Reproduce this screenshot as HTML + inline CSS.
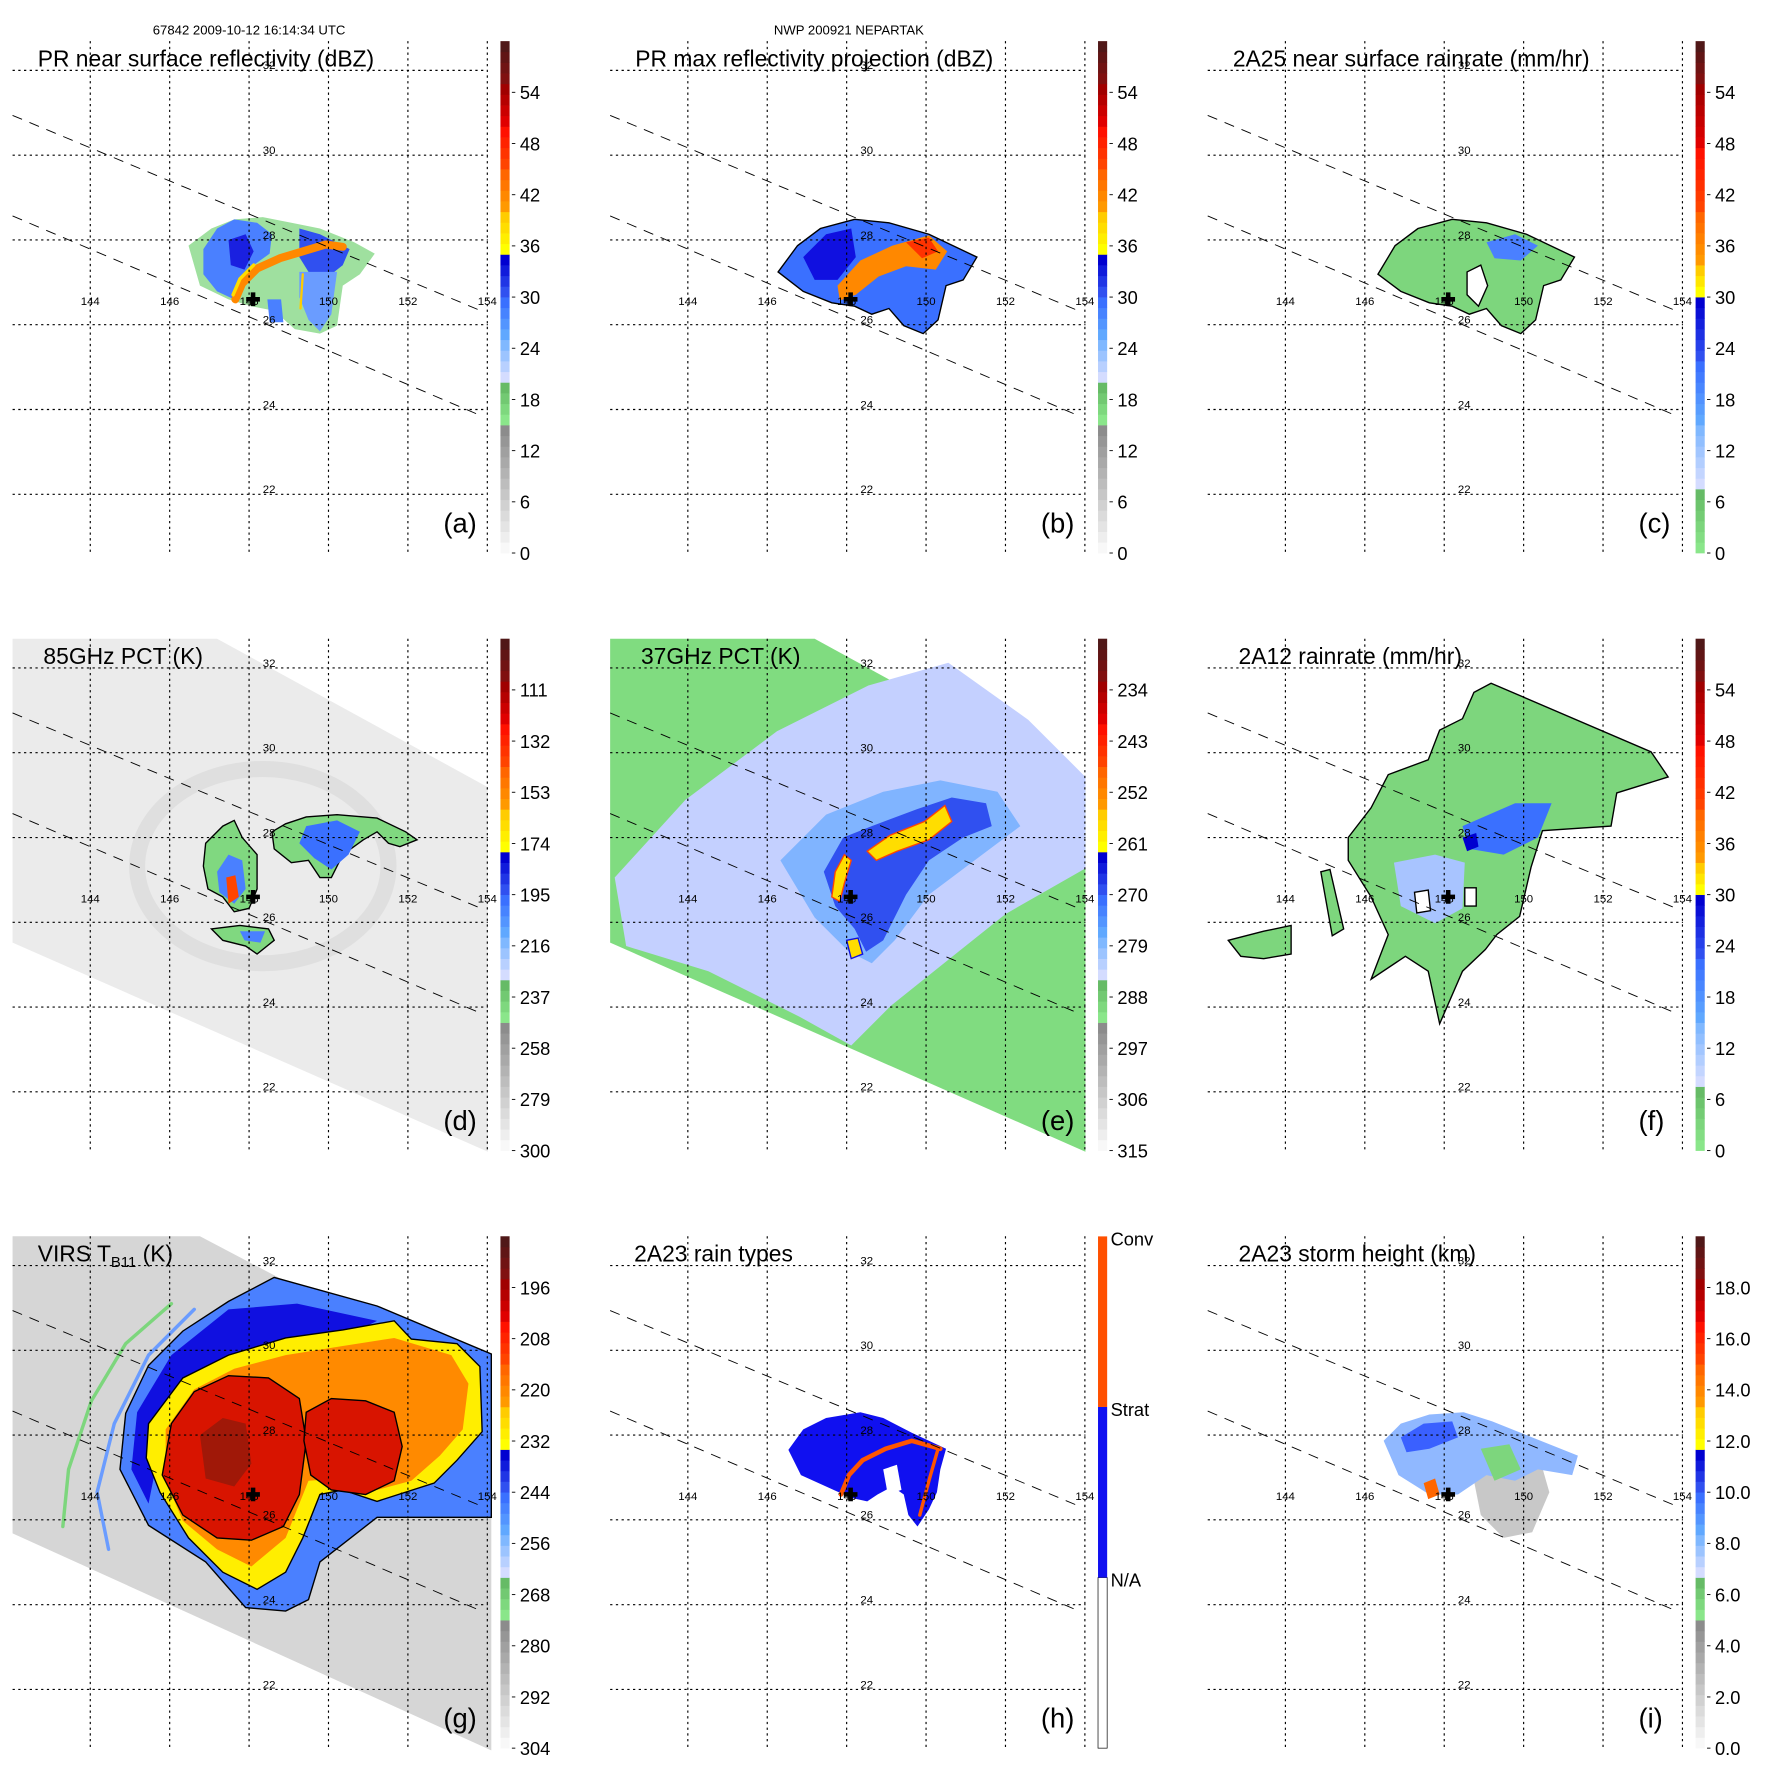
<!DOCTYPE html>
<html><head><meta charset="utf-8"><title>TRMM NEPARTAK</title>
<style>html,body{margin:0;padding:0;background:#fff}svg{display:block;font-family:"Liberation Sans",Arial,sans-serif}</style>
</head><body>
<svg id="fig" xmlns="http://www.w3.org/2000/svg" width="1771" height="1771" viewBox="0 0 1550 1550">
<rect width="1550" height="1550" fill="#fff"/>
<text x="218" y="30" font-size="11.5" text-anchor="middle">67842 2009-10-12 16:14:34 UTC</text>
<text x="743" y="30" font-size="11.5" text-anchor="middle">NWP 200921 NEPARTAK</text>
</svg>
<script>
// ---------- data ----------
const lons = [144,146,148,150,152,154];
const lats = [32,30,28,26,24,22];
const ticksA = ['0','6','12','18','24','30','36','42','48','54'];
const ticksC = ['0','6','12','18','24','30','36','42','48','54'];
const ticksD = ['300','279','258','237','216','195','174','153','132','111'];
const ticksE = ['315','306','297','288','279','270','261','252','243','234'];
const ticksG = ['304','292','280','268','256','244','232','220','208','196'];
const ticksI = ['0.0','2.0','4.0','6.0','8.0','10.0','12.0','14.0','16.0','18.0'];
const rainTypes = ['N/A','Strat','Conv'];
const stormCenter = [148.1, 26.6];
const tmiSwath = [[11,36],[190,36],[427,166],[427,485],[11,302]];
const virsSwath = [[11,36],[175,36],[430,170],[430,486],[11,296]];
const features = [
 ['a','#9fe09f','none',[[165,215],[185,200],[205,192],[230,190],[255,195],[280,200],[310,212],[328,222],[315,240],[300,250],[295,285],[280,292],[258,288],[240,272],[220,268],[200,262],[175,250]]],
 ['a','#4a80ff','none',[[178,218],[190,200],[205,192],[225,195],[238,205],[236,222],[222,232],[212,245],[205,262],[190,255],[178,240]]],
 ['a','#1a20e0','none',[[200,210],[215,205],[222,220],[214,236],[202,232]]],
 ['a','#3050f0','none',[[262,200],[280,205],[306,218],[300,232],[290,240],[270,238],[262,225]]],
 ['a','#6a9cff','none',[[262,238],[295,238],[290,275],[280,290],[270,280],[262,260]]],
 ['a','#4a80ff','none',[[234,262],[246,262],[248,282],[236,282]]],
 ['b','#3a70ff','#000',[[158,238],[175,215],[195,200],[225,192],[255,195],[290,205],[332,225],[320,245],[305,250],[298,280],[285,292],[268,285],[255,270],[240,275],[225,268],[205,265],[180,255]]],
 ['b','#1010e0','none',[[180,225],[200,205],[222,200],[226,225],[210,245],[190,245]]],
 ['b','#ff8800','none',[[230,228],[258,215],[290,206],[306,220],[296,236],[270,233],[246,242],[226,258],[212,263],[210,250]]],
 ['b','#ff3300','none',[[270,212],[290,208],[298,220],[284,226]]],
 ['c','#7dd67d','#000',[[160,240],[175,215],[195,200],[225,192],[255,195],[290,205],[332,225],[320,245],[305,250],[298,280],[285,292],[268,285],[255,270],[240,275],[225,268],[205,265],[180,255]]],
 ['c','#fff','#000',[[238,238],[250,232],[256,250],[248,268],[238,258]]],
 ['c','#4a80ff','none',[[255,212],[280,205],[300,215],[285,228],[262,226]]],
 ['d','#80d880','#000',[[180,215],[195,200],[205,195],[212,210],[225,225],[225,255],[218,272],[205,275],[195,262],[182,255],[178,235]]],
 ['d','#4a80ff','none',[[190,240],[200,225],[212,230],[215,255],[205,268],[192,258]]],
 ['d','#ff4400','none',[[198,245],[206,243],[209,262],[200,268]]],
 ['d','#80d880','#000',[[238,205],[250,198],[268,192],[295,190],[330,193],[355,205],[365,212],[350,218],[340,215],[330,205],[318,212],[300,225],[290,245],[280,245],[270,230],[255,232],[240,220]]],
 ['d','#3a70ff','none',[[268,200],[295,195],[315,205],[305,225],[290,238],[275,228],[262,215]]],
 ['d','#80d880','#000',[[185,290],[210,287],[235,290],[240,300],[225,312],[215,305],[195,300]]],
 ['d','#4a80ff','none',[[210,292],[232,292],[228,302],[214,300]]],
 ['e','#c4d0ff','none',[[15,245],[77,177],[157,117],[237,77],[307,57],[377,107],[427,157],[427,237],[357,277],[307,317],[257,357],[222,392],[177,367],[97,327],[25,305]]],
 ['e','#80b4ff','none',[[160,230],[200,190],[250,170],[300,160],[350,170],[370,200],[330,230],[290,260],[260,300],[240,320],[220,310],[190,280]]],
 ['e','#3050f0','none',[[198,240],[215,210],[240,200],[280,185],[310,175],[340,180],[345,200],[320,210],[290,230],[270,260],[250,300],[235,310],[225,290],[208,270]]],
 ['e','#ffdd00','#ff4400',[[236,222],[256,208],[286,196],[304,182],[310,196],[290,212],[262,222],[244,230]]],
 ['e','#ffdd00','#ff4400',[[205,262],[208,240],[216,225],[222,230],[216,250],[212,266]]],
 ['e','#ffdd00','#1010e0',[[218,300],[228,298],[232,312],[222,316]]],
 ['f','#7dd67d','#000',[[259,75],[399,135],[414,157],[369,171],[364,200],[304,204],[294,236],[284,279],[264,295],[254,308],[234,327],[214,373],[204,327],[184,314],[154,334],[169,295],[154,262],[134,230],[134,210],[154,184],[169,155],[204,142],[214,116],[234,106],[244,83]]],
 ['f','#7dd67d','#000',[[29,300],[60,292],[84,287],[84,312],[60,316],[40,314]]],
 ['f','#7dd67d','#000',[[110,240],[118,238],[130,290],[120,296]]],
 ['f','#a8c4ff','none',[[174,232],[210,225],[236,232],[234,272],[210,285],[180,270]]],
 ['f','#3a70ff','none',[[234,200],[280,180],[312,180],[300,210],[270,225],[240,220]]],
 ['f','#0000d0','none',[[234,210],[246,206],[248,218],[238,222]]],
 ['f','#fff','#000',[[192,258],[204,256],[206,274],[194,276]]],
 ['f','#fff','#000',[[236,254],[246,254],[246,270],[236,270]]],
 ['g','#4a80ff','#000',[[240,72],[330,97],[430,139],[430,282],[330,282],[280,321],[270,354],[250,364],[215,361],[180,321],[130,289],[105,240],[110,191],[130,149],[160,119],[200,93]]],
 ['g','#1010e0','none',[[200,100],[260,95],[330,110],[300,125],[250,135],[200,150],[160,175],[140,220],[130,270],[115,240],[120,190],[150,140]]],
 ['g','#ffee00','#000',[[130,200],[160,160],[200,140],[250,125],[300,118],[345,110],[360,126],[400,130],[420,150],[422,207],[400,232],[380,252],[330,268],[300,258],[280,262],[265,300],[250,330],[225,345],[195,330],[165,300],[140,260],[128,230]]],
 ['g','#ff8a00','none',[[145,205],[170,170],[205,152],[250,140],[300,132],[345,125],[395,140],[410,165],[405,205],[385,228],[360,250],[330,258],[300,248],[270,250],[250,300],[220,325],[190,310],[160,285],[145,250]]],
 ['g','#d81400','#000',[[150,200],[170,172],[200,158],[235,160],[262,178],[268,215],[262,262],[248,290],[220,302],[190,300],[160,280],[142,245]]],
 ['g','#d81400','#000',[[268,190],[290,178],[320,180],[345,190],[352,220],[345,250],[320,262],[290,258],[272,245],[266,215]]],
 ['g','#a01808','none',[[175,210],[195,195],[215,200],[220,235],[205,255],[180,248]]],
 ['h','#1010f0','none',[[167,223],[180,205],[200,195],[230,190],[250,195],[275,208],[305,222],[300,240],[297,260],[290,275],[280,290],[272,280],[268,262],[258,255],[245,262],[236,268],[222,265],[200,255],[178,245]]],
 ['h','#fff','none',[[250,240],[262,236],[266,258],[254,262]]],
 ['i','#c8c8c8','none',[[240,230],[300,225],[310,260],[295,295],[270,300],[250,280]]],
 ['i','#90b8ff','none',[[165,215],[180,200],[205,192],[235,190],[260,198],[290,210],[335,228],[330,245],[300,240],[280,250],[255,245],[230,262],[205,262],[178,245]]],
 ['i','#3a60ff','none',[[180,212],[200,200],[225,198],[230,212],[205,222],[185,225]]],
 ['i','#7dd67d','none',[[250,222],[275,218],[285,240],[262,250]]],
 ['i','#ff6600','none',[[200,252],[210,248],[214,262],[204,266]]]
];
const arcs = [
 ['a','#ff8800',7,[[206,262],[212,248],[225,235],[245,226],[265,220],[285,214],[300,216]]],
 ['a','#ffdd00',3,[[204,258],[210,244],[222,232]]],
 ['a','#ffcc00',2,[[265,240],[263,270]]],
 ['h','#ff5500',4,[[213,262],[220,245],[232,232],[252,222],[275,215],[300,222]]],
 ['h','#ff5500',3,[[298,222],[290,250],[282,280]]],
 ['g','#7dd67d',3,[[150,95],[110,130],[80,180],[60,240],[55,290]]],
 ['g','#6a9cff',3,[[170,100],[130,140],[100,200],[85,260],[95,310]]]
];
// ---------- colormaps ----------
const segDbz=[[12,'#f8f8f8','#8c8c8c'],[4,'#8ae68a','#66bb66'],[4,'#d4dcff','#80b8ff'],[4,'#60a8ff','#3a70ff'],[4,'#3050f0','#0000d0'],[4,'#ffff00','#ffcc00'],[4,'#ff9900','#ff6600'],[4,'#ff4400','#ff1100'],[4,'#e00000','#a00000'],[4,'#801010','#501818']];
const segRain=[[6,'#8ae68a','#66bb66'],[6,'#d4dcff','#80b8ff'],[6,'#60a8ff','#3a70ff'],[6,'#3050f0','#0000d0'],[3,'#ffff00','#ffcc00'],[5,'#ff9900','#ff6600'],[6,'#ff4400','#ff1100'],[6,'#e00000','#a00000'],[4,'#801010','#501818']];
function hx(c){return [1,3,5].map(i=>parseInt(c.substr(i,2),16));}
function bins(seg){const out=[];seg.forEach(s=>{const a=hx(s[1]),b=hx(s[2]);for(let i=0;i<s[0];i++){const t=s[0]>1?i/(s[0]-1):0;out.push('rgb('+a.map((v,k)=>Math.round(v+(b[k]-v)*t)).join(',')+')');}});return out;}
const NS='http://www.w3.org/2000/svg';
const svg=document.getElementById('fig');
function mk(tag,attrs,parent){const e=document.createElementNS(NS,tag);for(const k in attrs)e.setAttribute(k,attrs[k]);parent.appendChild(e);return e;}
const lonX=lon=>218+(lon-148)*34.75;
const latY=lat=>210-(lat-28)*37.1;
const pts=p=>p.map(q=>q.join(',')).join(' ');
const panels=[
 {id:'a',c:0,r:0,title:'PR near surface reflectivity (dBZ)',tk:ticksA,cm:segDbz,sw:null},
 {id:'b',c:1,r:0,title:'PR max reflectivity projection (dBZ)',tk:ticksA,cm:segDbz,sw:null},
 {id:'c',c:2,r:0,title:'2A25 near surface rainrate (mm/hr)',tk:ticksC,cm:segRain,sw:null},
 {id:'d',c:0,r:1,title:'85GHz PCT (K)',tk:ticksD,cm:segDbz,sw:['#ebebeb',tmiSwath]},
 {id:'e',c:1,r:1,title:'37GHz PCT (K)',tk:ticksE,cm:segDbz,sw:['#80dc80',tmiSwath]},
 {id:'f',c:2,r:1,title:'2A12 rainrate (mm/hr)',tk:ticksC,cm:segRain,sw:null},
 {id:'g',c:0,r:2,title:'VIRS',tk:ticksG,cm:segDbz,sw:['#d6d6d6',virsSwath]},
 {id:'h',c:1,r:2,title:'2A23 rain types',tk:null,cm:null,sw:null},
 {id:'i',c:2,r:2,title:'2A23 storm height (km)',tk:ticksI,cm:segDbz,sw:null}
];
panels.forEach(P=>{
 const g=mk('g',{transform:'translate('+(P.c*523)+','+(P.r*523)+')'},svg);
 
 
 if(P.sw){const s=mk('polygon',{points:pts(P.sw[1]),fill:P.sw[0]},g);
  
  }
 if(P.id==='d'){const e1=mk('ellipse',{cx:230,cy:235,rx:110,ry:85,fill:'none',stroke:'#d4d4d4','stroke-width':14,opacity:0.5},g);
  
  }
 features.filter(f=>f[0]===P.id).forEach((f,i)=>{
  const el=mk('polygon',{points:pts(f[3]),fill:f[1],stroke:f[2],'stroke-width':1.2},g);
  
  
 });
 arcs.filter(f=>f[0]===P.id).forEach((f,i)=>{
  const el=mk('polyline',{points:pts(f[3]),fill:'none',stroke:f[1],'stroke-width':f[2],'stroke-linecap':'round','stroke-linejoin':'round'},g);
  
  
 });
 [[[11,101],[421,272]],[[11,189],[419,363]]].forEach((l,i)=>{
  const el=mk('line',{x1:l[0][0],y1:l[0][1],x2:l[1][0],y2:l[1][1],stroke:'#000','stroke-width':0.8,'stroke-dasharray':'9,7'},g);
  
  
 });
 let d='';
 lats.forEach(la=>{d+='M11,'+latY(la)+'H427';});
 lons.forEach(lo=>{d+='M'+lonX(lo)+',36V483';});
 const gr=mk('path',{d:d,stroke:'#000','stroke-width':1,'stroke-dasharray':'2,3',fill:'none'},g);
 
 
 lons.forEach(lo=>{const t=mk('text',{x:lonX(lo),y:267,'font-size':10,'text-anchor':'middle'},g);t.textContent=lo;
  
  });
 lats.forEach(la=>{const t=mk('text',{x:230,y:latY(la)-1,'font-size':10},g);t.textContent=la;
  
  });
 const cx=lonX(stormCenter[0]),cy=latY(stormCenter[1]);
 const cr=mk('path',{d:'M'+(cx-6)+','+cy+'H'+(cx+6)+'M'+cx+','+(cy-6)+'V'+(cy+6),stroke:'#000','stroke-width':4},g);
 
 
 const tx=(P.r===0)?33:(P.id==='h'?32:(P.id==='g'?33:38));
 const tt=mk('text',{x:tx,y:58,'font-size':20},g);
 if(P.id==='g'){tt.textContent='VIRS T';const sb=mk('tspan',{'font-size':13,dy:5},tt);sb.textContent='B11';
  
  
  const rs=mk('tspan',{dy:-5},tt);rs.textContent=' (K)';
  
  }
 else tt.textContent=P.title;
 
 
 const lb=mk('text',{x:388,y:466,'font-size':24},g);lb.textContent='('+P.id+')';
 
 
 const cb=mk('g',{},g);
 
 
 if(P.cm){
  const B=bins(P.cm),h=448/B.length;
  B.forEach((c,i)=>{const r=mk('rect',{x:438,y:484-(i+1)*h,width:8,height:h+0.3,fill:c},cb);
   
   });
  P.tk.forEach((s,i)=>{const y=484-i*6/60*448;
   const tm=mk('line',{x1:448,x2:451,y1:y,y2:y,stroke:'#000','stroke-width':0.8},cb);
   
   
   const t=mk('text',{x:455,y:y+6,'font-size':16},cb);t.textContent=s;
   
   });
 } else {
  const cols=['#ffffff','#1010f0','#ff5000'];
  rainTypes.forEach((s,i)=>{const y=484-(i+1)*149.3;
   const r=mk('rect',{x:438,y:y,width:8,height:149.3,fill:cols[i],stroke:i===0?'#000':'none','stroke-width':0.6},cb);
   
   
   const t=mk('text',{x:449,y:y+8,'font-size':16},cb);t.textContent=s;
   
   });
 }
});
</script>
</body></html>
